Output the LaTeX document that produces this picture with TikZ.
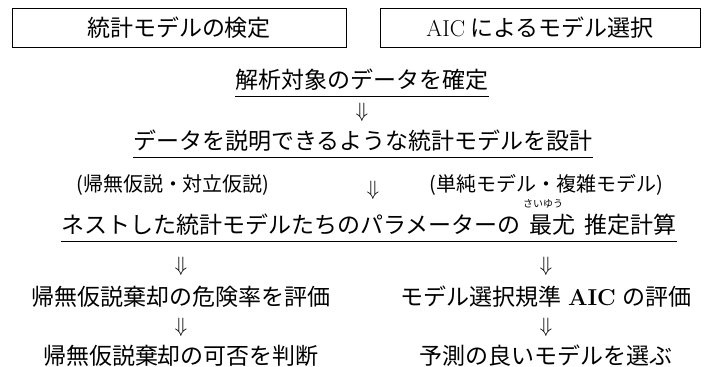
\documentclass[tikz,border=0pt]{standalone}
\usepackage{fontspec}
\newfontfamily\jp{Noto Sans CJK JP}
\begin{document}
\begin{tikzpicture}[x=1pt,y=-1pt,
  box/.style={draw,line width=0.8pt,inner sep=0pt,minimum height=39pt,font=\jp\fontsize{23}{26}\selectfont},
  jt/.style={inner sep=0pt,font=\jp\fontsize{23}{26}\selectfont},
  pt/.style={inner sep=0pt,font=\jp\fontsize{20}{24}\selectfont},
  rb/.style={inner sep=0pt,font=\jp\fontsize{10}{12}\selectfont},
  ar/.style={inner sep=0pt,font=\fontsize{20}{24}\selectfont},
  ul/.style={line width=0.8pt}]
\useasboundingbox (0,0) rectangle (705,367);
\node[box,minimum width=334pt] (b1) at (179,27.5) {統計モデルの検定};
\node[box,minimum width=320pt] (b2) at (540,27.5) {{\rmfamily AIC} によるモデル選択};
\node[jt] (l1) at (362,80) {解析対象のデータを確定};
\draw[ul] ([yshift=-5pt]l1.south west) -- ([yshift=-5pt]l1.south east);
\node[ar] (a1) at (362,112) {$\Downarrow$};
\node[jt] (l2) at (363,141) {データを説明できるような統計モデルを設計};
\draw[ul] ([yshift=-5pt]l2.south west) -- ([yshift=-5pt]l2.south east);
\node[pt] (p1) at (173,185) {(帰無仮説・対立仮説)};
\node[ar] (a2) at (373,190) {$\Downarrow$};
\node[pt] (p2) at (546,185) {(単純モデル・複雑モデル)};
\node[jt] (l3) at (369,225) {ネストした統計モデルたちのパラメーターの\hspace{0.4em}最尤\hspace{0.4em}推定計算};
\node[rb] (r) at (543,204) {さいゆう};
\draw[ul] ([yshift=-5pt]l3.south west) -- ([yshift=-5pt]l3.south east);
\node[ar] (a3) at (181,266) {$\Downarrow$};
\node[ar] (a4) at (546,266) {$\Downarrow$};
\node[jt] (m1) at (181,297) {帰無仮説棄却の危険率を評価};
\node[jt] (m2) at (546,297) {モデル選択規準\hspace{0.3em}{\rmfamily\bfseries AIC}\hspace{0.3em}の評価};
\node[ar] (a5) at (181,327) {$\Downarrow$};
\node[ar] (a6) at (546,327) {$\Downarrow$};
\node[jt] (n1) at (181,356) {帰無仮説棄却の可否を判断};
\node[jt] (n2) at (546,356) {予測の良いモデルを選ぶ};
\end{tikzpicture}
\end{document}
